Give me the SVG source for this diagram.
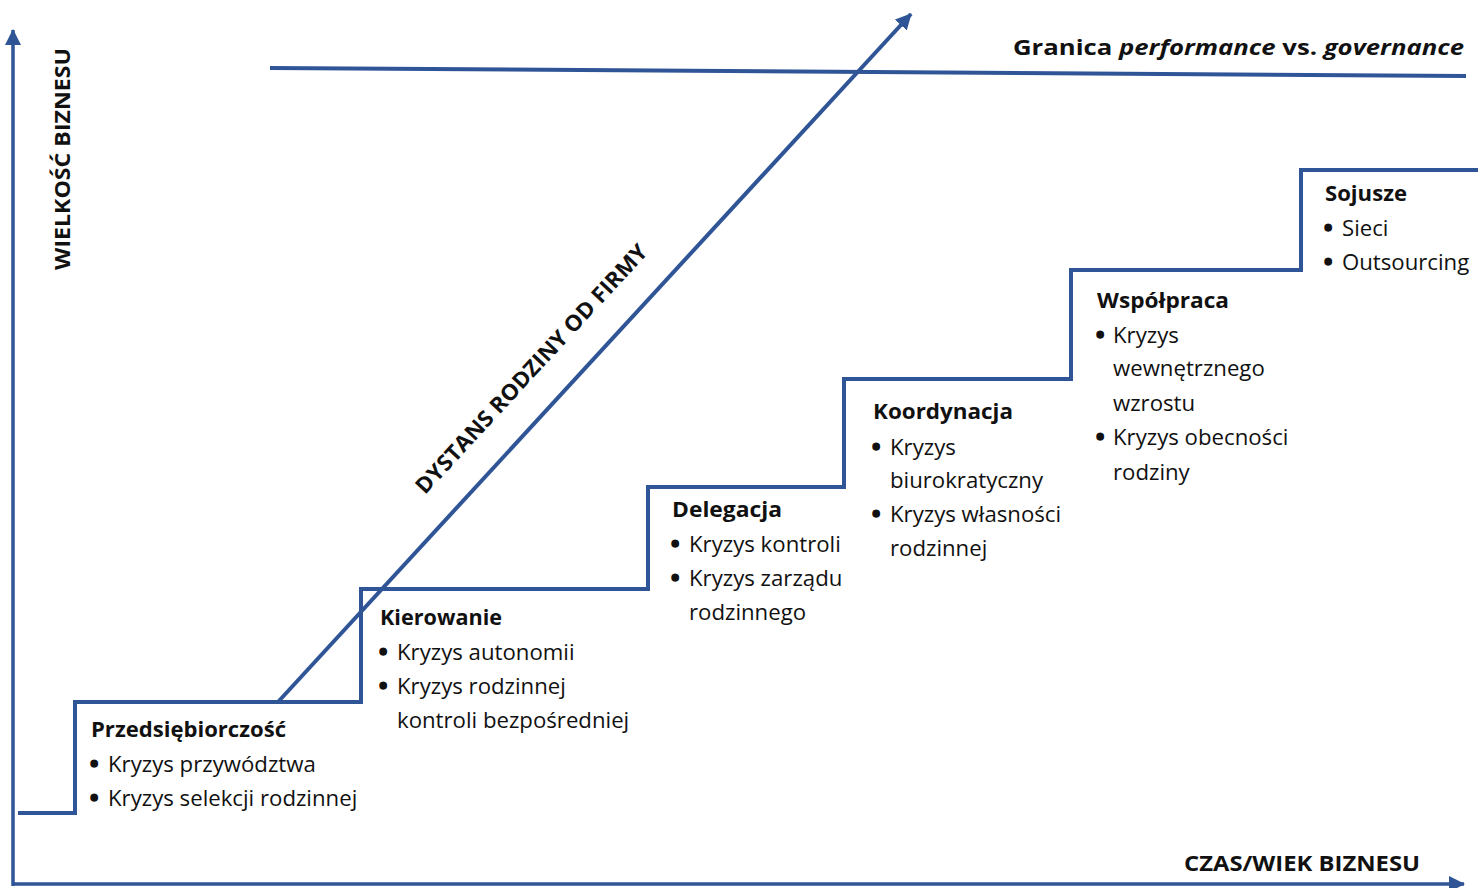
<svg xmlns="http://www.w3.org/2000/svg" width="1482" height="888" viewBox="0 0 1482 888">
<style>
.ln{fill:none;stroke:#2F5597;stroke-width:4;stroke-linejoin:miter}
.ax{fill:none;stroke:#2F5597;stroke-width:3.5}
text{font-family:"Open Sans","Noto Sans","DejaVu Sans",sans-serif;fill:#111}
.h{font-weight:700;font-size:22px}
.b{font-size:22.2px}
.d{font-weight:700;stroke:#111;stroke-width:1.6}
.lab{font-weight:700;font-size:22px}
</style>
<defs>
<marker id="ah" markerUnits="userSpaceOnUse" markerWidth="18" markerHeight="18" refX="15" refY="8" orient="auto">
<path d="M0,0 L16,8 L0,16 Z" fill="#2F5597"/>
</marker>
</defs>
<rect width="1482" height="888" fill="#fff"/>
<g id="connectors">
<path class="ax" d="M13,886 V30" marker-end="url(#ah)"/>
<path class="ax" d="M12,884 H1464" marker-end="url(#ah)"/>
<path class="ln" d="M270,68 L1466,76"/>
<path class="ln" d="M18,813 H75 V702 H361 V589 H648 V487 H844 V379 H1071 V270 H1301 V170 H1478"/>
<path class="ln" d="M278,702 L911,14" marker-end="url(#ah)"/>
</g>
<g id="axis-y"><text class="lab" transform="translate(70,159) rotate(-90)" text-anchor="middle" textLength="222" lengthAdjust="spacingAndGlyphs">WIELKOŚĆ BIZNESU</text></g>
<g id="axis-x"><text class="lab" x="1184" y="871" textLength="236" lengthAdjust="spacingAndGlyphs">CZAS/WIEK BIZNESU</text></g>
<g id="boundary"><text class="lab" x="1013" y="55" textLength="451" lengthAdjust="spacingAndGlyphs">Granica <tspan font-style="italic">performance</tspan> vs. <tspan font-style="italic">governance</tspan></text></g>
<g id="distance"><text class="lab" transform="translate(537,374) rotate(-47.3)" text-anchor="middle" textLength="330" lengthAdjust="spacingAndGlyphs">DYSTANS RODZINY OD FIRMY</text></g>
<g id="stage1">
<text class="h" x="91" y="737" textLength="195" lengthAdjust="spacingAndGlyphs">Przedsiębiorczość</text>
<text class="b" y="772"><tspan class="d" x="90">•</tspan><tspan x="108">Kryzys przywództwa</tspan></text>
<text class="b" y="806"><tspan class="d" x="90">•</tspan><tspan x="108">Kryzys selekcji rodzinnej</tspan></text>
</g>
<g id="stage2">
<text class="h" x="380" y="625" textLength="122" lengthAdjust="spacingAndGlyphs">Kierowanie</text>
<text class="b" y="660"><tspan class="d" x="379">•</tspan><tspan x="397">Kryzys autonomii</tspan></text>
<text class="b" y="694"><tspan class="d" x="379">•</tspan><tspan x="397">Kryzys rodzinnej</tspan></text>
<text class="b" x="397" y="728">kontroli bezpośredniej</text>
</g>
<g id="stage3">
<text class="h" x="672" y="517" textLength="110" lengthAdjust="spacingAndGlyphs">Delegacja</text>
<text class="b" y="552"><tspan class="d" x="671">•</tspan><tspan x="689">Kryzys kontroli</tspan></text>
<text class="b" y="586"><tspan class="d" x="671">•</tspan><tspan x="689">Kryzys zarządu</tspan></text>
<text class="b" x="689" y="620">rodzinnego</text>
</g>
<g id="stage4">
<text class="h" x="873" y="419" textLength="140" lengthAdjust="spacingAndGlyphs">Koordynacja</text>
<text class="b" y="455"><tspan class="d" x="872">•</tspan><tspan x="890">Kryzys</tspan></text>
<text class="b" x="890" y="488">biurokratyczny</text>
<text class="b" y="522"><tspan class="d" x="872">•</tspan><tspan x="890">Kryzys własności</tspan></text>
<text class="b" x="890" y="556">rodzinnej</text>
</g>
<g id="stage5">
<text class="h" x="1097" y="308" textLength="132" lengthAdjust="spacingAndGlyphs">Współpraca</text>
<text class="b" y="343"><tspan class="d" x="1096">•</tspan><tspan x="1113">Kryzys</tspan></text>
<text class="b" x="1113" y="376">wewnętrznego</text>
<text class="b" x="1113" y="411">wzrostu</text>
<text class="b" y="445"><tspan class="d" x="1096">•</tspan><tspan x="1113">Kryzys obecności</tspan></text>
<text class="b" x="1113" y="480">rodziny</text>
</g>
<g id="stage6">
<text class="h" x="1325" y="201" textLength="82" lengthAdjust="spacingAndGlyphs">Sojusze</text>
<text class="b" y="236"><tspan class="d" x="1324">•</tspan><tspan x="1342">Sieci</tspan></text>
<text class="b" y="270"><tspan class="d" x="1324">•</tspan><tspan x="1342">Outsourcing</tspan></text>
</g>
</svg>
